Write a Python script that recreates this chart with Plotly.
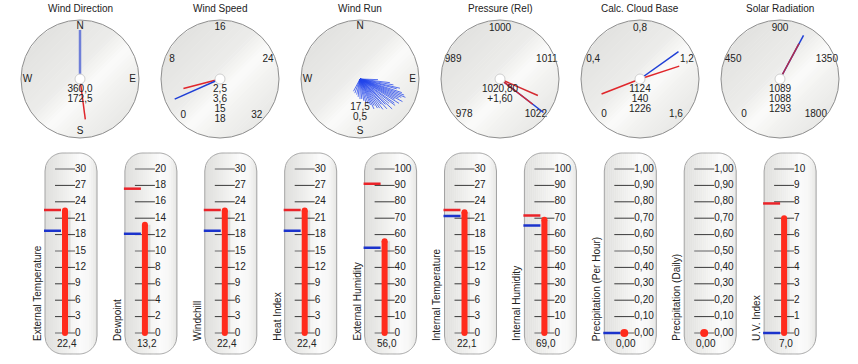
import math
import plotly.graph_objects as go

W, H = 858, 364
FONT = "Liberation Sans, Arial, sans-serif"
FS = 10
TXT = "#222222"
RED = "#ff2b1c"
NRED = "#e0262b"
NBLUE = "#1f3fd6"

# ---------------- dial data ----------------
dial_titles = ["Wind Direction", "Wind Speed", "Wind Run", "Pressure (Rel)",
               "Calc. Cloud Base", "Solar Radiation"]
compass_labels = ["N", "E", "S", "W"]
compass_deg = [0, 90, 180, 270]

speed_ticks = [0, 8, 16, 24, 32]
speed_tick_text = ["0", "8", "16", "24", "32"]
pressure_ticks = [978, 989, 1000, 1011, 1022]
pressure_tick_text = ["978", "989", "1000", "1011", "1022"]
cloud_ticks = [0, 0.4, 0.8, 1.2, 1.6]
cloud_tick_text = ["0", "0,4", "0,8", "1,2", "1,6"]
solar_ticks = [0, 450, 900, 1350, 1800]
solar_tick_text = ["0", "450", "900", "1350", "1800"]

wind_dir_current = 360.0
wind_dir_marks = [172.5]
wind_dir_text = ["360,0", "172,5"]

wind_speed_current = 2.5
wind_speed_marks = [3.6]
wind_speed_text = ["2,5", "3,6", "15", "18"]

wind_run_dirs = [92, 97, 100, 103, 105, 108, 110, 112, 114, 116, 118, 120, 122, 125,
                 127, 130, 133, 135, 138, 140, 143, 146, 149, 152, 155, 158, 162, 166,
                 170, 175, 180, 186, 192, 200, 208]
wind_run_speeds = [6.1, 10.2, 11.5, 13.9, 12.9, 14.9, 15.9, 16.6, 15.3, 14.6, 16.3, 13.6,
                   15.6, 14.2, 14.9, 12.9, 14.9, 12.2, 13.6, 11.2, 12.9, 11.9, 11.5, 10.2,
                   11.2, 9.5, 8.8, 8.1, 7.5, 6.8, 6.8, 6.1, 5.4, 5.1, 4.7]
wind_run_text = ["17,5", "0,5"]

pressure_current = 1020.8
pressure_marks = [1020.8, 1018.5]
pressure_text = ["1020,80", "+1,60"]

cloud_current = 1.124
cloud_marks = [0.14, 1.226]
cloud_text = ["1124", "140", "1226"]

solar_current = 1089
solar_marks = [1088]
solar_text = ["1089", "1088", "1293"]

# ---------------- thermometer data ----------------
th_names = ["External Temperature", "Dewpoint", "Windchill", "Heat Index",
            "External Humidity", "Internal Temperature", "Internal Humidity",
            "Precipitation (Per Hour)", "Precipitation (Daily)", "U.V. Index"]
th_values = [22.4, 13.2, 22.4, 22.4, 56.0, 22.1, 69.0, 0.00, 0.00, 7.0]
th_value_text = ["22,4", "13,2", "22,4", "22,4", "56,0", "22,1", "69,0", "0,00", "0,00", "7,0"]
th_high = [22.5, 17.6, 22.5, 22.5, 91.0, 22.5, 71.7, None, None, 7.9]
th_low = [18.7, 12.1, 18.7, 18.7, 52.0, 21.4, 65.6, 0.0, None, 0.0]
temp_ticks = [0, 3, 6, 9, 12, 15, 18, 21, 24, 27, 30]
temp_tick_text = [str(t) for t in temp_ticks]
dew_ticks = [0, 2, 4, 6, 8, 10, 12, 14, 16, 18, 20]
dew_tick_text = [str(t) for t in dew_ticks]
hum_ticks = [0, 10, 20, 30, 40, 50, 60, 70, 80, 90, 100]
hum_tick_text = [str(t) for t in hum_ticks]
rain_ticks = [0.0, 0.1, 0.2, 0.3, 0.4, 0.5, 0.6, 0.7, 0.8, 0.9, 1.0]
rain_tick_text = ["0,00", "0,10", "0,20", "0,30", "0,40", "0,50", "0,60", "0,70",
                  "0,80", "0,90", "1,00"]
uv_ticks = [0, 1, 2, 3, 4, 5, 6, 7, 8, 9, 10]
uv_tick_text = [str(t) for t in uv_ticks]
th_ticks = [temp_ticks, dew_ticks, temp_ticks, temp_ticks, hum_ticks, temp_ticks,
            hum_ticks, rain_ticks, rain_ticks, uv_ticks]
th_tick_text = [temp_tick_text, dew_tick_text, temp_tick_text, temp_tick_text,
                hum_tick_text, temp_tick_text, hum_tick_text, rain_tick_text,
                rain_tick_text, uv_tick_text]


def dial_angle(v, lo, hi):
    """map a value on a 270-degree dial (lo at bottom-left, hi at bottom-right)"""
    return (v - (lo + hi) / 2.0) / (hi - lo) * 270.0


def px(x):
    return x / W


def py(y):
    return 1 - y / H


def grad(f, stops):
    for (f0, c0), (f1, c1) in zip(stops[:-1], stops[1:]):
        if f0 <= f <= f1:
            t = (f - f0) / (f1 - f0) if f1 > f0 else 0
            c = [round(a + (b - a) * t) for a, b in zip(c0, c1)]
            return f"rgb({c[0]},{c[1]},{c[2]})"
    c = stops[-1][1]
    return f"rgb({c[0]},{c[1]},{c[2]})"


def poly_path(pts):
    return "M " + " L ".join(f"{px(x):.5f},{py(y):.5f}" for x, y in pts) + " Z"


fig = go.Figure()
layout = dict(width=W, height=H, margin=dict(l=0, r=0, t=0, b=0),
              paper_bgcolor="white", plot_bgcolor="rgba(0,0,0,0)",
              showlegend=False, font=dict(family=FONT, size=FS, color=TXT))
annotations = []
shapes = []

# ---------------- dials ----------------
R = 59
CY = 79
DIAL_STOPS = [(0.0, (226, 226, 224)), (0.42, (236, 236, 234)), (0.6, (251, 251, 250)),
              (0.74, (243, 243, 241)), (1.0, (233, 233, 231))]
NS = 40
ux, uy = 1 / math.sqrt(2), 1 / math.sqrt(2)      # gradient direction (screen, down-right)
vx, vy = 1 / math.sqrt(2), -1 / math.sqrt(2)     # band direction
for i, title in enumerate(dial_titles):
    cx = 80 + 140 * i
    # background sheen (decoration)
    for s in range(NS):
        s1 = -R + 2 * R * s / NS
        s2 = -R + 2 * R * (s + 1) / NS
        h1 = math.sqrt(max(R * R - s1 * s1, 0))
        h2 = math.sqrt(max(R * R - s2 * s2, 0))
        pts = [(cx + s1 * ux - h1 * vx, CY + s1 * uy - h1 * vy),
               (cx + s1 * ux + h1 * vx, CY + s1 * uy + h1 * vy),
               (cx + s2 * ux + h2 * vx + 0.3, CY + s2 * uy + h2 * vy + 0.3),
               (cx + s2 * ux - h2 * vx + 0.3, CY + s2 * uy - h2 * vy + 0.3)]
        shapes.append(dict(type="path", path=poly_path(pts), xref="paper", yref="paper",
                           fillcolor=grad((s + 0.5) / NS, DIAL_STOPS),
                           line=dict(width=0), layer="below"))

    pname = "polar" if i == 0 else f"polar{i + 1}"
    sub = pname
    layout[pname] = dict(
        domain=dict(x=[(cx - R) / W, (cx + R) / W], y=[1 - (CY + R) / H, 1 - (CY - R) / H]),
        bgcolor="rgba(0,0,0,0)",
        angularaxis=dict(rotation=90, direction="clockwise", showgrid=False,
                         showticklabels=False, ticks="", showline=True,
                         linecolor="#8f8f8f", linewidth=1),
        radialaxis=dict(visible=False, range=[0, 20] if i == 2 else [0, 1]),
    )
    annotations.append(dict(text=title, x=cx / W, y=1 - 8 / H, xref="paper", yref="paper",
                            xanchor="center", yanchor="middle",
                            showarrow=False, font=dict(size=FS, color=TXT)))

    def add_text(labels, thetas, r):
        fig.add_trace(go.Scatterpolar(r=[r] * len(labels), theta=thetas, text=labels,
                                      mode="text", textfont=dict(size=FS, color=TXT),
                                      subplot=sub, hoverinfo="skip", cliponaxis=False))

    def center_text(lines, first):
        step = 10.0 / R
        rr = [first + k * step for k in range(len(lines))]
        if i == 2:
            rr = [v * 20 for v in rr]
        fig.add_trace(go.Scatterpolar(r=rr, theta=[180] * len(lines), text=lines,
                                      mode="text", textfont=dict(size=FS, color=TXT),
                                      subplot=sub, hoverinfo="skip", cliponaxis=False))

    def needle(theta, length, color, width):
        fig.add_trace(go.Scatterpolar(r=[0, length], theta=[theta, theta], mode="lines",
                                      line=dict(color=color, width=width),
                                      subplot=sub, hoverinfo="skip"))

    def hub():
        fig.add_trace(go.Scatterpolar(r=[0], theta=[0], mode="markers",
                                      marker=dict(size=10, color="white",
                                                  line=dict(color="#cfcfcf", width=1)),
                                      subplot=sub, hoverinfo="skip"))

    if i == 0:
        add_text(compass_labels, compass_deg, 0.89)
        needle(wind_dir_current, 0.83, "#6f7fd8", 2.5)
        for m in wind_dir_marks:
            needle(m, 0.69, NRED, 1.5)
        hub()
        center_text(wind_dir_text, 10.0 / R)
    elif i == 1:
        add_text(speed_tick_text, [dial_angle(t, 0, 32) for t in speed_ticks], 0.88)
        for m in wind_speed_marks:
            needle(dial_angle(m, 0, 32), 0.64, NRED, 1.5)
        needle(dial_angle(wind_speed_current, 0, 32), 0.84, NBLUE, 1.5)
        hub()
        center_text(wind_speed_text, 10.0 / R)
    elif i == 2:
        add_text(compass_labels, compass_deg, 0.89 * 20)
        rr, tt = [], []
        for d, s in zip(wind_run_dirs, wind_run_speeds):
            rr += [0, s, None]
            tt += [d, d, None]
        fig.add_trace(go.Scatterpolar(r=rr, theta=tt, mode="lines",
                                      line=dict(color="rgba(35,70,235,0.75)", width=1),
                                      subplot=sub, hoverinfo="skip"))
        center_text(wind_run_text, 28.0 / R)
    elif i == 3:
        add_text(pressure_tick_text, [dial_angle(t, 978, 1022) for t in pressure_ticks], 0.86)
        needle(dial_angle(pressure_current, 978, 1022), 0.93, NBLUE, 1.5)
        for m in pressure_marks:
            needle(dial_angle(m, 978, 1022), 0.7, "#d42a30", 1.5)
        hub()
        center_text(pressure_text, 10.0 / R)
    elif i == 4:
        add_text(cloud_tick_text, [dial_angle(t, 0, 1.6) for t in cloud_ticks], 0.86)
        needle(dial_angle(cloud_current, 0, 1.6), 0.8, NBLUE, 1.5)
        for m in cloud_marks:
            needle(dial_angle(m, 0, 1.6), 0.7, NRED, 1.5)
        hub()
        center_text(cloud_text, 10.0 / R)
    else:
        add_text(solar_tick_text, [dial_angle(t, 0, 1800) for t in solar_ticks], 0.86)
        needle(dial_angle(solar_current, 0, 1800), 0.84, NBLUE, 1.5)
        for m in solar_marks:
            needle(dial_angle(m, 0, 1800), 0.68, "#b02a4a", 1.5)
        hub()
        center_text(solar_text, 10.0 / R)

# ---------------- thermometers ----------------
TT, TB = 153, 354        # tube top / bottom (px)
Y0, YM = 333, 169        # pixel rows of scale min / max
TW = 52                  # tube width
CR = 18                  # corner radius
TUBE_STOPS = [(0.0, (223, 223, 221)), (0.35, (237, 237, 235)), (0.68, (251, 251, 251)),
              (0.85, (247, 247, 246)), (1.0, (230, 230, 228))]


def inset(d):
    d = min(d, TW - d)
    if d >= CR:
        return 0.0
    return CR - math.sqrt(max(CR * CR - (CR - d) ** 2, 0))


for i, name in enumerate(th_names):
    k = i + 1
    cx = 71 + 79.9 * i
    xa = "x" if k == 1 else f"x{k}"
    ya = "y" if k == 1 else f"y{k}"
    ticks = th_ticks[i]
    M = ticks[-1]
    unit = M / (Y0 - YM)
    layout["xaxis" if k == 1 else f"xaxis{k}"] = dict(
        domain=[px(cx - 40), px(cx + 36)], range=[-40, 36], visible=False,
        fixedrange=True, anchor=ya)
    layout["yaxis" if k == 1 else f"yaxis{k}"] = dict(
        domain=[py(TB), py(TT)], range=[-(TB - Y0) * unit, M + (YM - TT) * unit],
        visible=False, fixedrange=True, anchor=xa)

    # tube (decoration): gradient strips + outline
    x0 = cx - TW / 2
    NSTR = 26
    for s in range(NSTR):
        a = TW * s / NSTR
        b = TW * (s + 1) / NSTR
        pts = [(x0 + a, TT + inset(a)), (x0 + b + 0.3, TT + inset(b)),
               (x0 + b + 0.3, TB - inset(b)), (x0 + a, TB - inset(a))]
        shapes.append(dict(type="path", path=poly_path(pts), xref="paper", yref="paper",
                           fillcolor=grad((s + 0.5) / NSTR, TUBE_STOPS),
                           line=dict(width=0), layer="below"))
    outline = []
    steps = 60
    for s in range(steps + 1):
        d = TW * s / steps
        outline.append((x0 + d, TT + inset(d)))
    for s in range(steps, -1, -1):
        d = TW * s / steps
        outline.append((x0 + d, TB - inset(d)))
    shapes.append(dict(type="path", path=poly_path(outline), xref="paper", yref="paper",
                       fillcolor="rgba(0,0,0,0)", line=dict(color="#a3a3a3", width=1),
                       layer="below"))

    # tick lines
    n = len(ticks)
    light_idx = {0, n // 2, n - 1}
    lx, ly, dx_, dy_ = [], [], [], []
    for j, t in enumerate(ticks):
        if j in light_idx:
            lx += [-16, 4, None]; ly += [t, t, None]
        else:
            dx_ += [-16, 4, None]; dy_ += [t, t, None]
    fig.add_trace(go.Scatter(x=dx_, y=dy_, mode="lines", line=dict(color="#3a3a3a", width=1),
                             xaxis=xa, yaxis=ya, hoverinfo="skip"))
    fig.add_trace(go.Scatter(x=lx, y=ly, mode="lines", line=dict(color="#a8a8a8", width=2),
                             xaxis=xa, yaxis=ya, hoverinfo="skip"))
    fig.add_trace(go.Scatter(x=[4] * n, y=ticks, text=th_tick_text[i], mode="text",
                             textposition="middle right",
                             textfont=dict(size=FS, color=TXT),
                             xaxis=xa, yaxis=ya, hoverinfo="skip", cliponaxis=False))

    # high / low markers
    if th_high[i] is not None:
        fig.add_trace(go.Scatter(x=[-27, -10], y=[th_high[i]] * 2, mode="lines",
                                 line=dict(color="#ea2329", width=2.5),
                                 xaxis=xa, yaxis=ya, hoverinfo="skip", cliponaxis=False))
    if th_low[i] is not None:
        fig.add_trace(go.Scatter(x=[-27, -10], y=[th_low[i]] * 2, mode="lines",
                                 line=dict(color="#1b33cc", width=2.5),
                                 xaxis=xa, yaxis=ya, hoverinfo="skip", cliponaxis=False))

    # bar
    v = th_values[i]
    if v > 0:
        fig.add_trace(go.Scatter(x=[-4, -4], y=[0, v], mode="lines",
                                 line=dict(color="rgba(0,0,0,0.10)", width=7),
                                 xaxis=xa, yaxis=ya, hoverinfo="skip"))
        fig.add_trace(go.Scatter(x=[-6, -6], y=[0, v], mode="lines+markers",
                                 line=dict(color=RED, width=6),
                                 marker=dict(size=6, color=RED),
                                 xaxis=xa, yaxis=ya, hoverinfo="skip", cliponaxis=False))
    else:
        fig.add_trace(go.Scatter(x=[-6], y=[v], mode="markers",
                                 marker=dict(size=8, color=RED),
                                 xaxis=xa, yaxis=ya, hoverinfo="skip", cliponaxis=False))

    # labels
    annotations.append(dict(text=th_value_text[i], x=-4, xref=xa,
                            y=(TB - 343) / (TB - TT), yref=f"{ya} domain",
                            showarrow=False, xanchor="center", yanchor="middle",
                            font=dict(size=FS, color=TXT)))
    annotations.append(dict(text=name, x=px(cx - 34), xref="paper", y=py(343), yref="paper",
                            textangle=-90, showarrow=False, xanchor="center",
                            yanchor="bottom", font=dict(size=FS, color=TXT)))

layout["annotations"] = annotations
layout["shapes"] = shapes
fig.update_layout(**layout)
fig.write_html("out.html", config={"displayModeBar": False, "staticPlot": True},
               post_script="document.body.style.margin='0';document.body.style.padding='0';")
